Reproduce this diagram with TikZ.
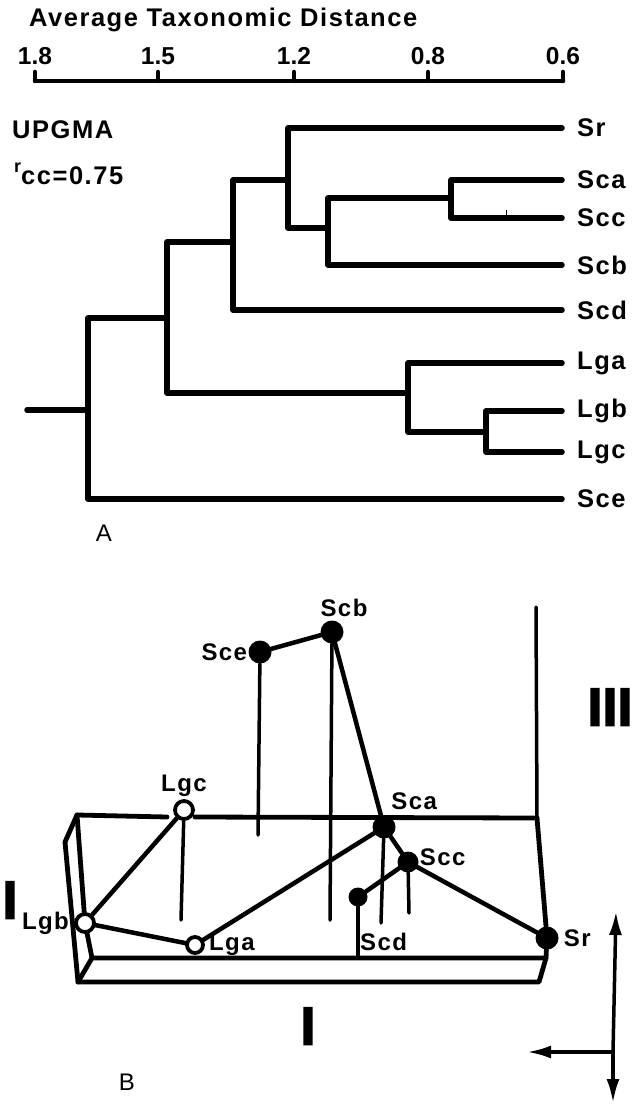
\documentclass[tikz,border=0pt]{standalone}
\usepackage{fontspec}
\setmainfont{Liberation Sans}
\newfontfamily\lblfont{Liberation Sans}[LetterSpace=6.0]
\newfontfamily\romfont{Liberation Sans Bold}[FakeBold=2.5]
\usetikzlibrary{positioning,arrows.meta}
\tikzset{
  dgm/.style   ={line width=5.5pt, line join=round, line cap=round},
  tax/.style   ={line width=4.5pt, line cap=round},
  lbl/.style   ={font=\lblfont\bfseries\fontsize{25.5}{27}\selectfont, inner sep=0pt, anchor=west},
  nlbl/.style  ={font=\bfseries\fontsize{24.5}{26}\selectfont, inner sep=0pt},
  plbl/.style  ={font=\lblfont\bfseries\fontsize{24}{26}\selectfont, inner sep=0pt},
  figlbl/.style={font=\fontsize{24}{26}\selectfont, inner sep=0pt},
  romlbl/.style={font=\romfont\fontsize{54}{54}\selectfont, inner sep=0pt},
  fpt/.style   ={circle, fill=black, minimum size=23pt, inner sep=0pt},
  opt/.style   ={circle, draw=black, fill=white, line width=3.8pt, minimum size=18pt, inner sep=0pt},
  link/.style  ={line width=4.5pt, line cap=round},
  stem/.style  ={line width=3.5pt, line cap=round},
  slab/.style  ={line width=4.8pt, line join=round, line cap=round},
  dirarr/.style={line width=3.5pt, -{Latex[length=24pt,width=13pt]}},
}

\begin{document}
\begin{tikzpicture}[x=1pt,y=-1pt]
  \useasboundingbox (0,0) rectangle (642,1105);

  % A: distance scale
  \node[lbl] (ttl) at (29,20) {Average Taxonomic Distance};
  \foreach \x/\v [count=\i] in {35/1.8,158/1.5,294/1.2,428/0.8,563/0.6} {
    \coordinate (tk\i) at (\x,81);
    \draw[tax] (tk\i) -- ++(0,-9);
    \node[nlbl] (tl\i) at (\x,56) {\v};
  }
  \draw[tax] (tk1) -- (tk5);

  \node[lbl] (upgma) at (12,130) {UPGMA};
  \node[lbl] (rcc) at (14,174) {\raisebox{0.45em}{\fontsize{18}{18}\selectfont r}cc=0.75};

  % A: leaves
  \foreach \n/\y in {Sr/128,Sca/180,Scc/218,Scb/265,Scd/310,Lga/363,Lgb/411,Lgc/452,Sce/499} {
    \coordinate (t\n) at (562,\y);
    \node[lbl, right=15pt of t\n] (l\n) {\n};
  }

  % A: joints
  \coordinate (jScc)  at (451,198);
  \coordinate (jScb)  at (328,228);
  \coordinate (jSr)   at (288,180);
  \coordinate (jScd)  at (233,242);
  \coordinate (jLgc)  at (486,432);
  \coordinate (jLga)  at (408,393);
  \coordinate (jLg)   at (167,318);
  \coordinate (jroot) at (88,410);
  \coordinate (root)  at (27,410);

  \draw[dgm] (tSca) -| (jScc) |- (tScc);
  \draw[dgm] (jScc) -| (jScb) |- (tScb);
  \draw[dgm] (tSr) -| (jSr) |- (jScb);
  \draw[dgm] (jSr) -| (jScd) |- (tScd);
  \draw[dgm] (tLgb) -| (jLgc) |- (tLgc);
  \draw[dgm] (tLga) -| (jLga) |- (jLgc);
  \draw[dgm] (jScd) -| (jLg) |- (jLga);
  \draw[dgm] (jLg) -| (jroot) |- (tSce);
  \draw[dgm] (root) -- (jroot);
  \draw[line width=1pt] (506,210) -- (506,218);

  \node[figlbl] (capA) at (104,533) {A};

  % B: slab corners
  \coordinate (bTL)   at (77,815);
  \coordinate (bLM)   at (65,842);
  \coordinate (bBL)   at (78,982);
  \coordinate (bFL)   at (92,958);
  \coordinate (bFR)   at (546,958);
  \coordinate (bBR)   at (539,982);
  \coordinate (bTR)   at (537,818);
  \coordinate (axTop) at (536,607);
  \coordinate (rimA)  at (167,817);
  \coordinate (rimB)  at (195,817);

  % B: points
  \node[fpt] (Sce) at (260,652) {};
  \node[fpt] (Scb) at (332,632) {};
  \node[fpt] (Sca) at (384,827) {};
  \node[fpt, minimum size=21pt] (Scc) at (408,862) {};
  \node[fpt, minimum size=19pt] (Scd) at (358,897) {};
  \node[fpt] (Sr)  at (547,938) {};
  \node[opt] (Lgc) at (184,810) {};
  \node[opt] (Lgb) at (85,923) {};
  \node[opt, minimum size=16pt] (Lga) at (195,945) {};

  % B: stems
  \coordinate (fLgc) at (181,920);
  \coordinate (fSce) at (258,835);
  \coordinate (fScb) at (330,920);
  \coordinate (fSca) at (381,923);
  \coordinate (fScc) at (409,913);
  \coordinate (fScd) at (358,958);
  \foreach \n in {Lgc,Sce,Scb,Sca,Scc,Scd}
    \draw[stem] (\n) -- (f\n);

  % B: slab
  \draw[slab] (bLM) -- (bTL) -- (rimA);
  \draw[slab] (rimB) -- (bTR);
  \draw[stem] (axTop) -- (bTR);
  \draw[slab] (bTR) -- (Sr) -- (bFR) -- (bBR) -- (bBL) -- (bLM);
  \draw[slab] (bTL) -- (Lgb) -- (bFL) -- (bFR);
  \draw[slab] (bFL) -- (bBL);

  % B: links
  \draw[link] (Sce) -- (Scb) -- (Sca) -- (Scc) -- (Sr);
  \draw[link] (Scc) -- (Scd);
  \draw[link] (Sca) -- (Lga) -- (Lgb) -- (Lgc);

  % B: labels
  \node[plbl, left=1pt of Sce] (lbSce) {Sce};
  \node[plbl, above=3pt of Scb, xshift=12pt] (lbScb) {Scb};
  \node[plbl, above=2pt of Lgc] (lbLgc) {Lgc};
  \node[plbl, above right=9pt and -1pt of Sca] (lbSca) {Sca};
  \node[plbl, right=1pt of Scc, yshift=5pt] (lbScc) {Scc};
  \node[plbl, anchor=west] (lbScd) at (360,942) {Scd};
  \node[plbl, right=5pt of Sr] (lbSr) {Sr};
  \node[plbl, right=4pt of Lga] (lbLga) {Lga};
  \node[plbl, left=5pt of Lgb] (lbLgb) {Lgb};

  \node[romlbl] (ax3)  at (610,707) {III};
  \node[romlbl] (ax1a) at (10,900) {I};
  \node[romlbl] (ax1b) at (308,1026) {I};

  % B: directions
  \coordinate (dO)  at (613,1052);
  \coordinate (dUp) at (616,911);
  \coordinate (dDn) at (613,1103);
  \coordinate (dLf) at (527,1052);
  \draw[dirarr] (dO) -- (dUp);
  \draw[dirarr] (dO) -- (dDn);
  \draw[dirarr] (dO) -- (dLf);

  \node[figlbl] (capB) at (127,1082) {B};
\end{tikzpicture}
\end{document}
